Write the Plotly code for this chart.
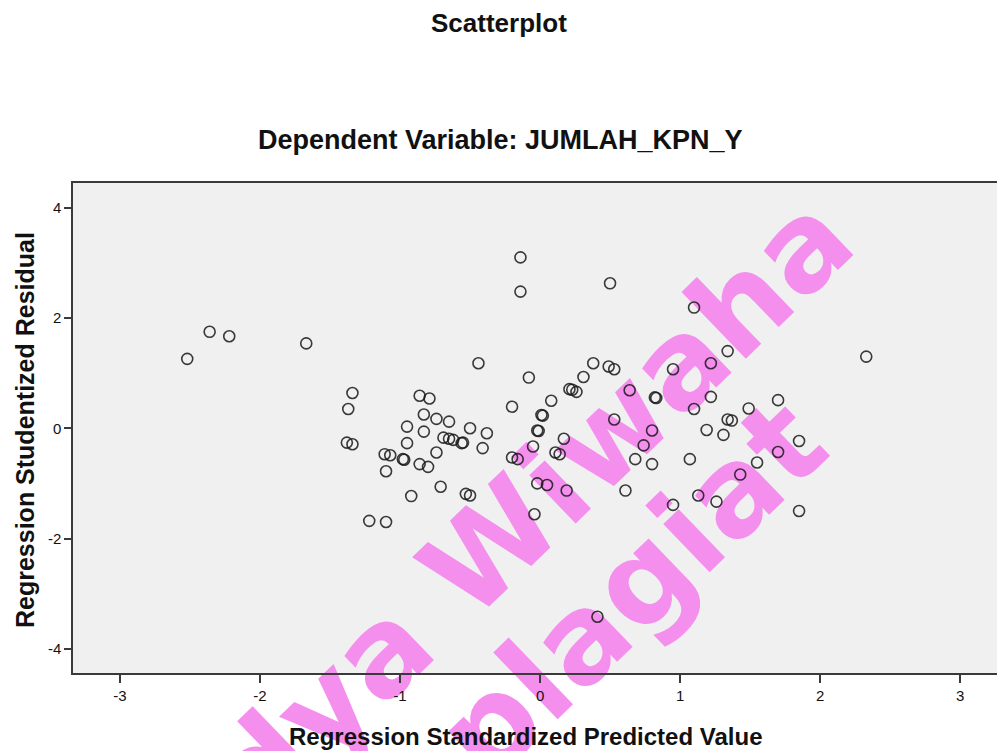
import plotly.graph_objects as go

# Regression Standardized Predicted Value (x) vs Regression Studentized Residual (y)
pred = [-2.52, -2.36, -2.22, -1.67, -0.44, -1.34, -1.37, -0.86, -0.79, -0.83,
        -0.74, -0.65, -0.95, -0.50, -0.83, -0.38, -0.69, -0.65, -0.62, -0.56,
        -0.55, -1.38, -1.34, -0.95, -0.41, -0.74, -1.11, -1.07, -0.98, -0.97,
        -0.86, -0.80, -1.10, -0.14, -0.14, 0.50, -0.08, 0.38, 0.49, 0.53,
        0.31, 0.21, 0.23, 0.26, 0.08, -0.20, 0.64, 0.01, 0.02, -0.02,
        -0.01, 0.53, 0.17, -0.05, 0.11, 0.14, -0.20, -0.16, -0.71, -0.02,
        0.05, 0.19, -0.92, -0.53, -0.50, 0.61, -0.04, -1.22, -1.10, 1.10,
        2.33, 1.34, 1.22, 0.95, 0.83, 0.82, 1.22, 1.10, 1.49, 1.70,
        1.34, 1.37, 0.80, 1.19, 1.31, 1.85, 0.74, 1.70, 0.68, 0.80,
        1.07, 1.55, 1.43, 1.13, 1.26, 0.95, 1.85, 0.41]
resid = [1.26, 1.75, 1.67, 1.54, 1.18, 0.64, 0.35, 0.59, 0.54, 0.25,
         0.17, 0.12, 0.03, 0.00, -0.06, -0.09, -0.17, -0.19, -0.21, -0.27,
         -0.26, -0.26, -0.29, -0.27, -0.36, -0.44, -0.47, -0.49, -0.56, -0.57,
         -0.65, -0.70, -0.78, 3.10, 2.48, 2.63, 0.92, 1.18, 1.12, 1.07,
         0.93, 0.71, 0.70, 0.66, 0.50, 0.39, 0.69, 0.24, 0.23, -0.04,
         -0.05, 0.16, -0.19, -0.33, -0.44, -0.47, -0.53, -0.56, -1.06, -1.00,
         -1.03, -1.13, -1.23, -1.19, -1.22, -1.13, -1.56, -1.68, -1.70, 2.19,
         1.30, 1.40, 1.18, 1.07, 0.55, 0.56, 0.57, 0.35, 0.36, 0.51,
         0.16, 0.14, -0.04, -0.03, -0.12, -0.23, -0.31, -0.43, -0.56, -0.65,
         -0.56, -0.62, -0.84, -1.22, -1.33, -1.39, -1.50, -3.42]

x_ticks = [-3, -2, -1, 0, 1, 2, 3]
y_ticks = [-4, -2, 0, 2, 4]

title_text = "Scatterplot"
subtitle_text = "Dependent Variable: JUMLAH_KPN_Y"
x_title = "Regression Standardized Predicted Value"
y_title = "Regression Studentized Residual"
watermark_1 = "Widya Wiwaha"
watermark_2 = "plagiat"

# the page body adds an 8px offset; target positions below are window pixels
OFF = 8
W, H = 1005 - OFF, 751 - OFF
L, T = 73 - OFF, 183 - OFF
R = 0
B = H - (673 - OFF)
pw, ph = W - L - R, H - T - B


def px(xp):
    return (xp - OFF - L) / pw


def py(yp):
    return (H - B - (yp - OFF)) / ph


fig = go.Figure()
fig.add_trace(go.Scatter(
    x=pred, y=resid, mode="markers",
    marker=dict(symbol="circle-open", size=11,
                line=dict(width=1.6, color="rgba(25,25,25,0.85)"),
                color="rgba(25,25,25,0.85)"),
    hoverinfo="skip", showlegend=False,
))

axis_font = dict(family="Liberation Sans, Arial, sans-serif", size=15, color="#111")
fig.update_layout(
    width=W, height=H,
    margin=dict(l=L, r=R, t=T, b=B, pad=0),
    paper_bgcolor="white",
    plot_bgcolor="#F0F0F0",
    xaxis=dict(range=[-3.336, 3.321], tickvals=x_ticks, ticktext=[str(v) for v in x_ticks],
               showgrid=False, zeroline=False, showline=True, mirror=True,
               linecolor="#3a3a3a", linewidth=1.5, ticks="outside", ticklen=8,
               tickwidth=1.5, tickcolor="#3a3a3a", tickfont=axis_font),
    yaxis=dict(range=[-4.44, 4.45], tickvals=y_ticks, ticktext=[str(v) for v in y_ticks],
               showgrid=False, zeroline=False, showline=True, mirror=False,
               linecolor="#3a3a3a", linewidth=1.5, ticks="outside", ticklen=7,
               tickwidth=1.5, tickcolor="#3a3a3a", tickfont=axis_font),
)

bold = dict(family="Liberation Sans, Arial, sans-serif", color="#111")
fig.add_annotation(text="<b>%s</b>" % title_text, xref="paper", yref="paper",
                   x=px(499), y=py(23), showarrow=False, font=dict(size=26, **bold),
                   xanchor="center", yanchor="middle", borderpad=0)
fig.add_annotation(text="<b>%s</b>" % subtitle_text, xref="paper", yref="paper",
                   x=px(500), y=py(140), showarrow=False, font=dict(size=27, **bold),
                   xanchor="center", yanchor="middle")
fig.add_annotation(text="<b>%s</b>" % x_title, xref="paper", yref="paper",
                   x=px(525), y=py(736), showarrow=False, font=dict(size=24, **bold),
                   xanchor="center", yanchor="middle")
fig.add_annotation(text="<b>%s</b>" % y_title, xref="paper", yref="paper",
                   x=px(25), y=py(430), showarrow=False, font=dict(size=25, **bold),
                   textangle=-90, xanchor="center", yanchor="middle")

wm_font = dict(family="DejaVu Sans", size=122, color="rgb(245,143,238)", weight="bold")
for txt, cx, cy in [(watermark_1, 462, 562), (watermark_2, 625, 583)]:
    fig.add_shape(type="rect", xref="paper", yref="paper",
                  x0=px(cx) - 0.005, x1=px(cx) + 0.005,
                  y0=py(cy) - 0.005, y1=py(cy) + 0.005,
                  line=dict(width=0), fillcolor="rgba(0,0,0,0)", layer="below",
                  label=dict(text=txt, textangle=-44, font=wm_font,
                             textposition="middle center"))

fig.write_html("out.html")
